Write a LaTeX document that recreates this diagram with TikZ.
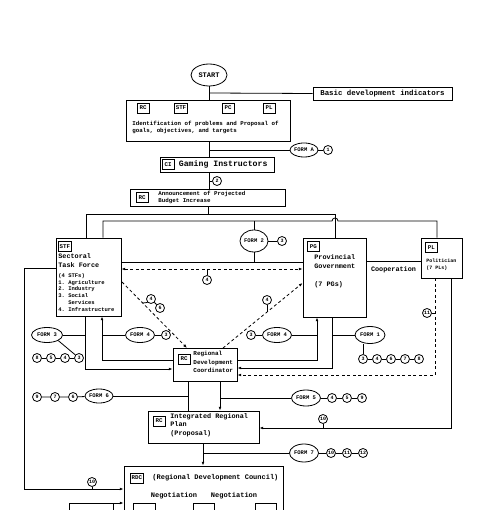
\documentclass[tikz,border=0pt]{standalone}
\usepackage{fontspec}
\setmonofont{Liberation Mono}
\usetikzlibrary{shapes.geometric,arrows.meta}
\begin{document}
\begin{tikzpicture}[x=1pt,y=-1pt,line width=0.8pt,
  >={Latex[length=3.8pt,width=2.8pt]},
  every node/.append style={font=\ttfamily\bfseries},
  box/.style={draw,rectangle,inner sep=0pt},
  tag/.style={draw,rectangle,inner sep=1.2pt,minimum height=10pt,minimum width=12pt,font=\ttfamily\bfseries\fontsize{5.8}{5.8}\selectfont},
  form/.style={draw,ellipse,inner sep=0pt,font=\ttfamily\bfseries\fontsize{5.5}{6}\selectfont},
  num/.style={draw,circle,inner sep=0pt,minimum size=9pt,font=\ttfamily\bfseries\fontsize{5}{5}\selectfont},
  txt/.style={inner sep=0pt,align=left,font=\ttfamily\bfseries\fontsize{6}{7}\selectfont},
  dsh/.style={dash pattern=on 3pt off 2.5pt}]
\useasboundingbox (0,0) rectangle (500,510);
\clip (0,0) rectangle (500,510);

% ---- top
\node[form,minimum width=36pt,minimum height=22pt,font=\ttfamily\bfseries\fontsize{7}{7}\selectfont] (start) at (209,75) {START};
\node[box,minimum width=139pt,minimum height=13pt,font=\ttfamily\bfseries\fontsize{7.4}{8}\selectfont] (basic) at (382.5,93.5) {Basic development indicators};
\node[box,minimum width=164pt,minimum height=41pt] (ident) at (208,120.5) {};
\node[tag] (t1) at (143,108) {RC};
\node[tag] (t2) at (181,108) {STF};
\node[tag] (t3) at (228,108) {PC};
\node[tag] (t4) at (269,108) {PL};
\node[txt,anchor=west,font=\ttfamily\bfseries\fontsize{5.8}{7}\selectfont] (identtxt) at (132,127.5) {Identification of problems and Proposal of\\goals, objectives, and targets};
\coordinate (jb) at (209,93);
\draw (start.south) -- (start.south |- ident.north);
\draw (jb) -- (basic.west);

\node[form,minimum width=28pt,minimum height=14pt] (formA) at (304,150) {FORM A};
\node[num] (n1) at (328,150) {1};
\node[box,minimum width=114pt,minimum height=15pt] (gaming) at (217,164.5) {};
\node[tag] (tci) at (168,164.5) {CI};
\node[txt,anchor=west,font=\ttfamily\bfseries\fontsize{8.2}{9}\selectfont] (gamtxt) at (178.5,164.5) {Gaming Instructors};
\coordinate (jA) at (209,150);
\draw (ident.south -| jA) -- (jA |- gaming.north);
\draw (jA) -- (formA.west);
\draw (formA) -- (n1);

\node[box,minimum width=155pt,minimum height=17pt] (announce) at (207.5,197.5) {};
\node[tag] (tan) at (142,197.5) {RC};
\node[txt,anchor=west,font=\ttfamily\bfseries\fontsize{5.8}{7}\selectfont] (antxt) at (158,197.5) {Announcement of Projected\\Budget Increase};
\node[num] (n2) at (217,181) {2};
\coordinate (j2) at (209,181);
\draw (gaming.south -| j2) -- (j2 |- announce.north);
\draw (j2) -- (n2.west);

% ---- middle boxes
\node[box,minimum width=65pt,minimum height=78pt] (stf) at (88.5,277) {};
\node[tag,anchor=north west] (tstf) at (58,241) {STF};
\node[txt,anchor=north west,font=\ttfamily\bfseries\fontsize{6.8}{9}\selectfont] (stft) at (58,253) {Sectoral\\Task Force};
\node[txt,anchor=north west,font=\ttfamily\bfseries\fontsize{5.5}{6.8}\selectfont] (stfl) at (58,273) {(4 STFs)\\1. Agriculture\\2. Industry\\3. Social\\\phantom{3. }Services\\4. Infrastructure};

\node[box,minimum width=63pt,minimum height=79pt] (pg) at (334.5,277.5) {};
\node[tag,anchor=north west] (tpg) at (307,241) {PG};
\node[txt,anchor=north west,font=\ttfamily\bfseries\fontsize{6.8}{9}\selectfont] (pgt) at (314,254) {Provincial\\Government};
\node[txt,anchor=north west,font=\ttfamily\bfseries\fontsize{6.8}{9}\selectfont] (pgn) at (314,281) {(7 PGs)};

\node[box,minimum width=41pt,minimum height=40pt] (pl) at (441.5,258) {};
\node[tag,anchor=north west] (tpl) at (425,242) {PL};
\node[txt,anchor=north west,font=\ttfamily\bfseries\fontsize{5}{7}\selectfont] (plt) at (426,258) {Politician\\(7 PLs)};

\coordinate (coopy) at (0,261);
\draw (pg.east |- coopy) -- (pl.west |- coopy);
\node[txt,font=\ttfamily\bfseries\fontsize{6.8}{7}\selectfont] (coop) at (393.5,270) {Cooperation};

% ---- distribution lines
\coordinate (u0) at (208,214);
\coordinate (uL) at (86,214);
\coordinate (uR) at (335,214);
\coordinate (lL) at (103,221);
\coordinate (lH) at (332,221);
\coordinate (lR) at (437,221);
\draw (announce.south -| u0) -- (u0);
\draw (uL |- stf.north) -- (uL) -- (uR) -- (uR |- pg.north);
\draw (lL |- stf.north) -- (lL) -- (lH) arc[start angle=180,end angle=360,radius=3] -- (lR) -- (lR |- pl.north);

\node[form,minimum width=28pt,minimum height=22pt] (f2) at (254,241) {FORM 2};
\node[num] (n3a) at (282,241) {3};
\coordinate (f2top) at (254,221);
\coordinate (h262) at (0,262);
\coordinate (h269) at (0,269);
\draw (f2top) -- (f2.north);
\draw (f2.south) -- (f2.south |- h262);
\draw (stf.east |- h262) -- (pg.west |- h262);
\draw (f2) -- (n3a);
\draw[dsh,<->] (stf.east |- h269) -- (pg.west |- h269);
\node[num] (n4a) at (207,280) {4};
\draw (n4a.north) -- (n4a.north |- h269);

% ---- regional development coordinator
\node[box,minimum width=64pt,minimum height=33pt] (rdcc) at (205,364.5) {};
\node[tag] (trc) at (184,359) {RC};
\node[txt,anchor=north west,font=\ttfamily\bfseries\fontsize{6}{8.5}\selectfont] (rdct) at (193,351) {Regional\\Development\\Coordinator};

% dashed diagonals
\coordinate (dA) at (122,282);
\coordinate (dB) at (187,348);
\coordinate (dC) at (223,348);
\coordinate (dD) at (0,283);
\draw[dsh,->] (dA) -- (dB);
\draw[dsh,->] (dC) -- (pg.west |- dD);
\node[num] (n4b) at (151,299) {4};
\node[num] (n6) at (160,308) {6};
\coordinate (dl1) at (142.7,303);
\draw (n4b.south west) -- (dl1);
\draw (n4b) -- (n6);
\node[num] (n4c) at (267,300) {4};
\coordinate (dl2) at (267,312.3);
\draw (n4c.south) -- (dl2);

% left side
\coordinate (a85) at (85,369);
\coordinate (a102) at (102,360);
\draw[->] (stf.south -| a85) -- (a85) -- (rdcc.west |- a85);
\draw[->] (rdcc.west |- a102) -- (a102) -- (a102 |- stf.south);
\node[form,minimum width=31pt,minimum height=15pt] (f3) at (47,335) {FORM 3};
\draw (f3.east) -- (f3.east -| a85);
\node[num] (c8) at (37,358) {8};
\node[num] (c5) at (51,358) {5};
\node[num] (c4) at (65,358) {4};
\node[num] (c3) at (79,358) {3};
\draw (c8) -- (c5) -- (c4) -- (c3);
\draw (f3.south east) -- (c3);
\node[form,minimum width=29pt,minimum height=15pt] (f4a) at (140,335) {FORM 4};
\node[num] (c3b) at (166,335) {3};
\draw (f4a.west -| a102) -- (f4a.west);
\draw (f4a) -- (c3b);

% right side
\coordinate (b317) at (317,360);
\coordinate (b332) at (332,368);
\draw[->] (rdcc.east |- b317) -- (b317) -- (b317 |- pg.south);
\draw[->] (pg.south -| b332) -- (b332) -- (rdcc.east |- b332);
\node[form,minimum width=29pt,minimum height=15pt] (f4b) at (277,335) {FORM 4};
\node[num] (c3c) at (251,335) {3};
\draw (f4b.east) -- (f4b.east -| b317);
\draw (c3c) -- (f4b);
\node[form,minimum width=30pt,minimum height=17pt] (f1) at (370,335) {FORM 1};
\draw (f1.west -| b332) -- (f1.west);
\node[num] (d3) at (363,359) {3};
\node[num] (d4) at (377,359) {4};
\node[num] (d6) at (391,359) {6};
\node[num] (d7) at (405,359) {7};
\node[num] (d8) at (419,359) {8};
\draw (d3) -- (d4) -- (d6) -- (d7) -- (d8);
\draw (d3.north) -- (d3.north |- f1.south);

% politician lines
\coordinate (p435) at (435,375);
\coordinate (p451) at (451,428);
\draw[dsh,->] (pl.south -| p435) -- (p435) -- (rdcc.east |- p435);
\node[num] (n11) at (427,313) {11};
\draw (n11.east) -- (n11.east -| p435);

% ---- integrated regional plan
\node[box,minimum width=111pt,minimum height=32pt] (irp) at (203.5,427) {};
\node[tag] (tirp) at (159,421) {RC};
\node[txt,anchor=north west,font=\ttfamily\bfseries\fontsize{6.8}{8.5}\selectfont] (irpt) at (170,413) {Integrated Regional\\Plan\\(Proposal)};
\draw[->] (pl.south -| p451) -- (p451) -- (irp.east |- p451);
\node[num] (n10a) at (323,419) {10};
\draw (n10a.south) -- (n10a.south |- p451);

\coordinate (r188) at (188,396);
\coordinate (r220) at (220,398);
\draw (rdcc.south -| r188) -- (r188 |- irp.north);
\draw[->] (rdcc.south -| r220) -- (r220 |- irp.north);
\node[form,minimum width=28pt,minimum height=14pt] (f6) at (99,396) {FORM 6};
\draw (f6.east) -- (f6.east -| r188);
\node[num] (e9) at (37,397) {9};
\node[num] (e7) at (55,397) {7};
\node[num] (e6) at (73,397) {6};
\draw (e9) -- (e7) -- (e6) -- (f6);
\node[form,minimum width=29pt,minimum height=16pt] (f5) at (306,398) {FORM 5};
\draw (f5.west -| r220) -- (f5.west);
\node[num] (g4) at (332,398) {4};
\node[num] (g5) at (347,398) {5};
\node[num] (g9) at (362,398) {9};
\draw (f5) -- (g4) -- (g5) -- (g9);

% ---- regional development council
\node[box,minimum width=159pt,minimum height=70pt] (rdc) at (203.5,501) {};
\node[tag,anchor=west] (trdc) at (130,478) {RDC};
\node[txt,anchor=west,font=\ttfamily\bfseries\fontsize{7}{7}\selectfont] (rdctxt) at (152,478) {(Regional Development Council)};
\node[txt,font=\ttfamily\bfseries\fontsize{7}{7}\selectfont] (neg1) at (174,496) {Negotiation};
\node[txt,font=\ttfamily\bfseries\fontsize{7}{7}\selectfont] (neg2) at (234,496) {Negotiation};
\node[box,minimum width=22pt,minimum height=20pt,anchor=north] (s1) at (144,503) {};
\node[box,minimum width=21pt,minimum height=20pt,anchor=north] (s2) at (203.5,503) {};
\node[box,minimum width=21pt,minimum height=20pt,anchor=north] (s3) at (265.5,503) {};

\coordinate (q203) at (203,453);
\draw[->] (irp.south -| q203) -- (q203 |- rdc.north);
\node[form,minimum width=29pt,minimum height=18pt] (f7) at (304,453) {FORM 7};
\draw (q203) -- (f7.west);
\node[num] (h10) at (331,453) {10};
\node[num] (h11) at (347,453) {11};
\node[num] (h12) at (363,453) {12};
\draw (f7) -- (h10) -- (h11) -- (h12);

% outer loop
\coordinate (o1) at (24,268);
\coordinate (o2) at (24,489);
\draw[->] (stf.west |- o1) -- (o1) -- (o2) -- (rdc.west |- o2);
\node[num] (n10b) at (92,482) {10};
\draw (n10b.south) -- (n10b.south |- o2);

\node[box,minimum width=44pt,minimum height=20pt,anchor=north west] (bl) at (69,503) {};
\draw[->] (bl.north east) -- (rdc.west |- bl.north east);
\end{tikzpicture}
\end{document}
